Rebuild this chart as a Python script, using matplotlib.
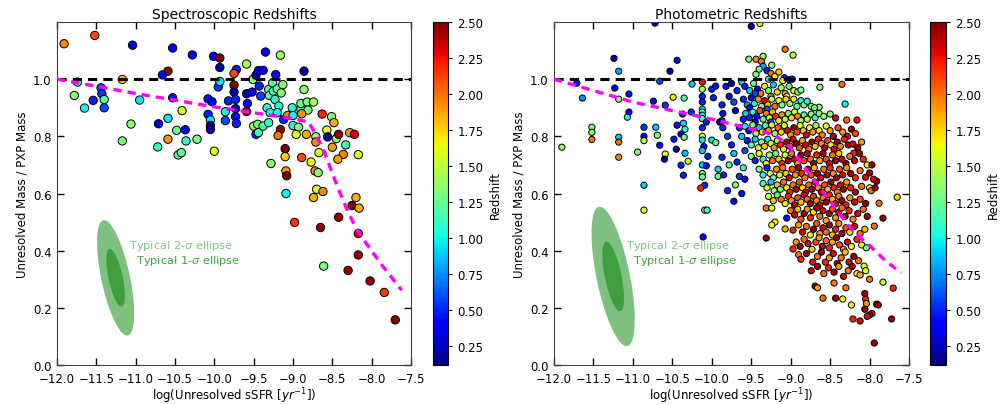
import numpy as np
import matplotlib
matplotlib.use('Agg')
import matplotlib.pyplot as plt

# ---- spectroscopic sample: log sSFR, mass ratio, redshift
spec_x = [-11.91, -11.52, -11.04, -10.53, -10.28, -10.01, -9.93, -9.93, -9.35, -9.16,
          -9.59, -10.59, -10.66, -9.72, -8.86, -11.17, -11.74, -11.78, -11.65, -11.54,
          -11.44, -11.43, -11.40, -11.40, -10.95, -11.06, -11.17, -10.53, -10.59, -10.71,
          -10.41, -10.48, -10.37, -10.59, -10.72, -10.36, -10.22, -10.46, -10.42, -10.00,
          -10.08, -10.03, -10.08, -10.05, -10.05, -10.05, -9.95, -9.93, -9.86, -9.86,
          -9.82, -9.75, -9.75, -9.75, -9.73, -9.73, -9.73, -9.72, -9.59, -9.58,
          -9.59, -9.52, -9.51, -9.47, -9.44, -9.38, -9.43, -9.41, -9.50, -9.45,
          -9.47, -9.44, -9.38, -9.33, -9.31, -9.30, -9.31, -9.29, -9.26, -9.22,
          -9.25, -9.23, -9.20, -9.18, -9.20, -9.15, -9.13, -9.12, -9.07, -9.01,
          -9.00, -8.86, -8.90, -8.90, -8.82, -8.74, -8.81, -8.89, -9.00, -8.93,
          -8.96, -8.83, -9.16, -9.19, -9.28, -8.71, -8.71, -8.63, -8.51, -8.57,
          -8.48, -8.56, -8.45, -8.42, -8.28, -8.22, -8.33, -8.50, -8.67, -8.36,
          -8.43, -8.17, -9.10, -9.10, -8.89, -8.77, -9.09, -9.08, -8.72, -8.68,
          -9.09, -8.70, -8.62, -8.74, -8.20, -8.25, -8.16, -8.42, -8.98, -8.65,
          -8.17, -8.17, -8.61, -8.30, -8.02, -7.84, -7.70]
spec_y = [1.124, 1.153, 1.119, 1.109, 1.085, 1.080, 1.074, 1.041, 1.095, 1.084,
          1.053, 1.028, 1.015, 1.034, 1.028, 0.999, 0.990, 0.943, 0.899, 0.926,
          0.970, 0.949, 0.929, 0.900, 0.927, 0.843, 0.784, 0.935, 0.863, 0.844,
          0.890, 0.821, 0.823, 0.790, 0.763, 0.784, 0.790, 0.735, 0.743, 0.748,
          0.931, 0.921, 0.877, 0.857, 0.838, 0.824, 0.973, 0.992, 0.886, 0.855,
          0.924, 0.979, 1.020, 0.955, 0.929, 0.897, 0.869, 0.845, 0.949, 0.915,
          0.887, 0.955, 0.999, 1.014, 1.030, 1.031, 0.976, 0.941, 0.836, 0.842,
          0.807, 0.813, 0.836, 0.900, 0.964, 0.943, 0.848, 0.883, 0.987, 1.016,
          0.958, 0.929, 0.966, 0.906, 0.883, 0.952, 0.981, 0.859, 0.873, 0.900,
          0.873, 0.964, 0.894, 0.915, 0.920, 0.920, 0.892, 0.879, 0.838, 0.832,
          0.807, 0.807, 0.824, 0.803, 0.705, 0.799, 0.780, 0.878, 0.869, 0.822,
          0.848, 0.798, 0.792, 0.807, 0.813, 0.807, 0.770, 0.762, 0.743, 0.737,
          0.720, 0.736, 0.757, 0.729, 0.726, 0.710, 0.679, 0.662, 0.679, 0.673,
          0.600, 0.615, 0.607, 0.586, 0.586, 0.558, 0.549, 0.517, 0.499, 0.481,
          0.460, 0.385, 0.346, 0.331, 0.294, 0.254, 0.158]
spec_z = [1.95, 2.1, 0.4, 0.4, 0.35, 0.35, 2.5, 0.2, 0.4, 1.4,
          1.45, 2.45, 0.4, 0.5, 0.2, 1.8, 1.1, 1.35, 1.0, 0.5,
          0.6, 0.55, 1.2, 0.6, 0.95, 1.35, 1.3, 0.45, 0.95, 0.35,
          1.55, 1.2, 0.4, 1.9, 1.1, 1.1, 1.3, 1.15, 1.25, 1.6,
          0.45, 0.4, 0.5, 0.95, 0.2, 0.2, 0.55, 0.95, 1.0, 0.6,
          0.5, 2.5, 2.1, 0.2, 0.5, 0.2, 0.45, 0.5, 0.25, 0.4,
          2.4, 0.4, 1.35, 0.25, 0.4, 0.4, 0.5, 0.55, 1.4, 1.3,
          0.55, 1.15, 1.15, 1.05, 1.15, 1.2, 1.15, 1.0, 1.2, 0.45,
          1.1, 1.1, 1.3, 1.05, 1.0, 1.35, 1.35, 0.5, 1.95, 1.05,
          1.0, 1.35, 1.15, 1.25, 1.3, 1.4, 1.3, 1.9, 1.05, 1.3,
          1.6, 1.85, 2.45, 2.0, 1.35, 1.4, 1.95, 2.2, 1.35, 1.6,
          1.85, 0.2, 1.35, 2.45, 1.9, 2.3, 1.15, 1.9, 1.6, 1.95,
          1.9, 1.6, 2.5, 1.75, 2.1, 1.65, 1.9, 2.5, 1.95, 1.35,
          1.0, 1.6, 1.95, 1.85, 1.85, 2.5, 1.85, 2.45, 2.15, 2.45,
          2.3, 2.45, 1.3, 2.45, 2.45, 2.15, 2.5]

# ---- photometric sample (one line per region / band of the cloud)
phot_x = [
    -11.90, -11.71, -11.64, -11.52, -11.52, -11.52, -11.24, -11.23, -11.18, -11.18,
    -11.18, -11.18, -11.18, -11.05, -11.05, -11.07, -10.94, -10.86, -10.86, -10.86,
    -10.86, -10.86, -10.72, -10.74, -10.71, -10.69, -10.66, -10.66, -10.59, -10.59,
    -10.60, -10.53, -10.49, -10.44, -10.44, -10.45, -10.39, -10.39, -10.37, -10.36,
    -10.36, -10.35, -10.35, -10.34, -10.34, -10.30, -10.48, -10.26, -10.25, -10.12,
    -10.12, -10.12, -10.12, -10.12, -10.12, -10.12, -10.12, -10.07, -10.12, -10.12,
    -10.12, -10.10, -10.12, -10.12, -10.07, -10.12, -10.12, -10.09, -10.14, -10.09,
    -10.06, -10.11, -10.00, -9.95, -9.98, -10.00, -9.95, -10.05, -9.87, -9.92,
    -9.92, -9.87, -9.86, -9.87, -9.86, -9.90, -9.72, -9.85, -9.80, -9.82,
    -9.78, -9.75, -9.72, -9.70, -9.68, -9.80, -9.75, -9.72, -9.68, -9.78,
    -9.65, -9.70, -9.62, -9.65, -9.60, -9.62, -9.58, -9.60, -9.58,
    -9.50, -9.39, -9.07, -8.97, -9.53, -9.44, -9.35, -9.37, -9.24, -9.35,
    -9.44, -9.30, -9.25, -9.20, -9.15, -9.08, -9.40, -9.28, -9.10, -9.02,
    -8.98, -8.35, -8.63, -9.62,
    -9.58, -9.52, -9.47, -9.42, -9.38, -9.33, -9.28, -9.22, -9.17, -9.12, -9.07, -9.02, -8.96, -8.91, -8.87, -9.45, -9.25, -9.05,
    -9.60, -9.55, -9.50, -9.46, -9.41, -9.37, -9.33, -9.29, -9.24, -9.20, -9.15, -9.11, -9.06, -9.01, -8.96, -8.92, -8.87, -8.83, -8.79, -8.74, -8.64, -8.70, -8.31, -9.52, -9.30,
    -9.57, -9.52, -9.48, -9.43, -9.39, -9.35, -9.31, -9.27, -9.23, -9.19, -9.15, -9.11, -9.07, -9.03, -8.99, -8.95, -8.91, -8.87, -8.83, -8.79, -8.74, -8.69, -8.64, -8.58, -8.50, -8.43, -8.29, -8.16, -9.45, -9.25,
    -9.58, -9.53, -9.48, -9.44, -9.40, -9.36, -9.32, -9.28, -9.24, -9.20, -9.16, -9.12, -9.08, -9.04, -9.00, -8.96, -8.92, -8.88, -8.84, -8.80, -8.76, -8.72, -8.68, -8.64, -8.60, -8.55, -8.50, -8.46, -8.40, -8.34, -8.28, -8.23, -8.18,
    -9.55, -9.50, -9.45, -9.41, -9.37, -9.33, -9.29, -9.25, -9.21, -9.17, -9.13, -9.09, -9.05, -9.01, -8.97, -8.93, -8.89, -8.85, -8.81, -8.77, -8.73, -8.69, -8.65, -8.61, -8.57, -8.53, -8.49, -8.45, -8.41, -8.37, -8.32, -8.27, -8.21, -8.15, -8.10, -8.20,
    -9.50, -9.45, -9.40, -9.35, -9.31, -9.27, -9.23, -9.19, -9.15, -9.11, -9.07, -9.03, -8.99, -8.95, -8.91, -8.87, -8.83, -8.79, -8.75, -8.71, -8.67, -8.63, -8.59, -8.55, -8.51, -8.47, -8.43, -8.39, -8.35, -8.30, -8.25, -8.19, -8.13, -8.08, -8.03,
    -9.40, -9.35, -9.30, -9.26, -9.22, -9.18, -9.14, -9.10, -9.06, -9.02, -8.98, -8.94, -8.90, -8.86, -8.82, -8.78, -8.74, -8.70, -8.66, -8.62, -8.58, -8.54, -8.50, -8.46, -8.42, -8.38, -8.34, -8.29, -8.24, -8.18, -8.12, -8.05, -8.00, -7.91,
    -9.35, -9.30, -9.25, -9.21, -9.17, -9.13, -9.09, -9.05, -9.01, -8.97, -8.93, -8.89, -8.85, -8.81, -8.77, -8.73, -8.69, -8.65, -8.61, -8.57, -8.53, -8.49, -8.45, -8.41, -8.37, -8.33, -8.29, -8.24, -8.18, -8.10, -8.00, -7.98,
    -9.28, -9.22, -9.17, -9.12, -9.07, -9.03, -8.99, -8.95, -8.91, -8.87, -8.83, -8.79, -8.75, -8.71, -8.67, -8.63, -8.59, -8.55, -8.51, -8.47, -8.43, -8.39, -8.35, -8.30, -8.25, -8.19, -8.12, -8.05, -7.88, -7.65, -9.31, -9.24,
    -9.20, -9.05, -9.00, -8.95, -8.91, -8.87, -8.83, -8.79, -8.75, -8.71, -8.67, -8.63, -8.59, -8.55, -8.51, -8.47, -8.43, -8.39, -8.35, -8.31, -8.26, -8.21, -8.15, -8.08, -8.03, -7.83,
    -9.07, -8.97, -8.90, -8.85, -8.80, -8.75, -8.71, -8.67, -8.63, -8.59, -8.55, -8.51, -8.47, -8.43, -8.39, -8.35, -8.30, -8.25, -8.19, -8.12, -8.06, -7.94, -9.31, -9.24,
    -8.97, -8.93, -8.88, -8.83, -8.78, -8.73, -8.68, -8.64, -8.60, -8.55, -8.51, -8.47, -8.42, -8.38, -8.33, -8.28, -8.23, -8.16, -8.10, -8.04,
    -8.90, -8.87, -8.80, -8.72, -8.66, -8.61, -8.56, -8.51, -8.46, -8.41, -8.36, -8.31, -8.26, -8.20, -8.14, -8.07,
    -8.74, -8.66, -8.58, -8.52, -8.45, -8.39, -8.33, -8.27, -8.22, -8.16, -8.12, -8.05, -8.00,
    -8.69, -8.66, -8.59, -8.45, -8.43, -8.34, -8.23, -8.30, -8.06, -8.05, -8.04, -8.06, -7.91, -7.97, -7.89, -7.83, -7.70,
    -8.21, -8.12, -8.00, -8.03, -7.72, -7.94, -7.97, -7.95, -7.93]
phot_y = [
    0.762, 0.986, 0.934, 0.832, 0.814, 0.789, 1.073, 0.969, 1.028, 0.930,
    0.797, 0.780, 0.727, 0.948, 0.885, 0.867, 0.745, 0.832, 0.800, 0.785,
    0.629, 0.542, 1.196, 0.923, 0.832, 0.804, 0.993, 0.769, 0.909, 0.738,
    0.720, 1.028, 0.937, 1.066, 0.839, 0.755, 0.808, 0.699, 0.878, 0.846,
    0.664, 0.934, 0.797, 0.825, 0.741, 0.713, 0.790, 0.885, 0.983, 0.990,
    0.965, 0.940, 0.920, 0.895, 0.885, 0.874, 0.862, 0.850, 0.830, 0.800,
    0.787, 0.764, 0.750, 0.700, 0.697, 0.670, 0.658, 0.629, 0.619, 0.542,
    0.542, 0.448, 0.965, 0.976, 0.935, 0.787, 0.778, 0.730, 0.727, 0.685,
    0.660, 0.910, 0.880, 0.855, 0.830, 0.850, 0.573, 0.665, 0.610, 0.975,
    0.940, 0.985, 0.920, 0.890, 0.960, 0.800, 0.770, 0.740, 0.710, 0.700,
    0.660, 0.630, 0.600, 0.830, 0.860, 0.800, 0.750, 0.690, 0.650,
    1.185, 1.195, 1.105, 1.084, 1.070, 1.070, 1.080, 1.062, 1.049, 1.045,
    1.017, 1.030, 1.020, 1.010, 1.025, 1.005, 1.035, 1.000, 0.995, 0.998,
    1.000, 0.982, 0.972, 0.990,
    0.975, 0.96, 0.985, 0.965, 0.95, 0.975, 0.96, 0.98, 0.955, 0.97, 0.95, 0.975, 0.96, 0.955, 0.962, 0.95, 0.94, 0.94,
    0.93, 0.91, 0.935, 0.915, 0.93, 0.905, 0.925, 0.91, 0.93, 0.905, 0.925, 0.91, 0.93, 0.915, 0.93, 0.905, 0.925, 0.91, 0.923, 0.905, 0.902, 0.90, 0.913, 0.90, 0.895,
    0.88, 0.865, 0.885, 0.87, 0.89, 0.86, 0.88, 0.865, 0.885, 0.87, 0.855, 0.875, 0.86, 0.88, 0.865, 0.885, 0.87, 0.855, 0.875, 0.86, 0.878, 0.865, 0.88, 0.87, 0.878, 0.864, 0.857, 0.857, 0.85, 0.85,
    0.835, 0.82, 0.84, 0.81, 0.83, 0.815, 0.838, 0.82, 0.84, 0.81, 0.83, 0.815, 0.838, 0.82, 0.805, 0.83, 0.815, 0.838, 0.82, 0.805, 0.83, 0.815, 0.838, 0.82, 0.805, 0.836, 0.82, 0.80, 0.83, 0.815, 0.80, 0.825, 0.81,
    0.785, 0.77, 0.79, 0.76, 0.78, 0.765, 0.79, 0.775, 0.76, 0.785, 0.77, 0.755, 0.78, 0.765, 0.79, 0.775, 0.76, 0.785, 0.77, 0.755, 0.78, 0.765, 0.79, 0.775, 0.76, 0.785, 0.77, 0.755, 0.78, 0.765, 0.79, 0.77, 0.773, 0.76, 0.78, 0.741,
    0.73, 0.715, 0.74, 0.72, 0.705, 0.735, 0.715, 0.74, 0.72, 0.705, 0.735, 0.715, 0.74, 0.72, 0.705, 0.735, 0.715, 0.74, 0.72, 0.705, 0.735, 0.715, 0.74, 0.72, 0.705, 0.735, 0.715, 0.74, 0.72, 0.705, 0.73, 0.715, 0.74, 0.72, 0.70,
    0.685, 0.665, 0.69, 0.67, 0.655, 0.685, 0.665, 0.69, 0.67, 0.655, 0.685, 0.665, 0.69, 0.67, 0.655, 0.685, 0.665, 0.69, 0.67, 0.655, 0.685, 0.665, 0.69, 0.67, 0.655, 0.685, 0.665, 0.69, 0.67, 0.655, 0.68, 0.657, 0.672, 0.643,
    0.635, 0.62, 0.64, 0.61, 0.63, 0.615, 0.64, 0.62, 0.605, 0.63, 0.615, 0.64, 0.62, 0.605, 0.63, 0.615, 0.64, 0.62, 0.605, 0.63, 0.615, 0.64, 0.62, 0.605, 0.63, 0.615, 0.64, 0.62, 0.605, 0.625, 0.62, 0.61,
    0.59, 0.575, 0.595, 0.58, 0.565, 0.59, 0.575, 0.56, 0.585, 0.57, 0.595, 0.58, 0.565, 0.59, 0.575, 0.56, 0.585, 0.57, 0.595, 0.58, 0.565, 0.59, 0.575, 0.56, 0.585, 0.57, 0.58, 0.565, 0.566, 0.587, 0.549, 0.549,
    0.50, 0.514, 0.54, 0.525, 0.545, 0.51, 0.53, 0.545, 0.515, 0.535, 0.55, 0.52, 0.54, 0.505, 0.53, 0.545, 0.515, 0.535, 0.55, 0.52, 0.54, 0.51, 0.53, 0.545, 0.52, 0.514,
    0.476, 0.472, 0.49, 0.465, 0.485, 0.455, 0.475, 0.495, 0.46, 0.48, 0.465, 0.49, 0.455, 0.475, 0.495, 0.46, 0.48, 0.465, 0.485, 0.46, 0.475, 0.486, 0.444, 0.49,
    0.406, 0.43, 0.415, 0.44, 0.425, 0.405, 0.43, 0.445, 0.415, 0.435, 0.41, 0.43, 0.445, 0.42, 0.405, 0.43, 0.415, 0.44, 0.42, 0.41,
    0.386, 0.37, 0.39, 0.36, 0.38, 0.395, 0.36, 0.375, 0.39, 0.355, 0.375, 0.395, 0.36, 0.38, 0.365, 0.346,
    0.33, 0.345, 0.32, 0.34, 0.325, 0.345, 0.31, 0.33, 0.345, 0.32, 0.315, 0.33, 0.30,
    0.276, 0.27, 0.234, 0.287, 0.234, 0.231, 0.21, 0.27, 0.25, 0.23, 0.215, 0.195, 0.213, 0.18, 0.21, 0.29, 0.269,
    0.161, 0.154, 0.175, 0.17, 0.161, 0.077, 0.70, 0.65, 0.62]
phot_z = [
    1.35, 0.45, 0.75, 1.35, 1.3, 2.0, 0.2, 0.4, 0.8, 1.35,
    0.9, 2.0, 1.95, 0.45, 0.4, 1.0, 1.35, 0.55, 0.45, 1.45,
    0.9, 1.6, 0.2, 0.45, 0.9, 1.3, 0.6, 0.45, 0.55, 1.65,
    0.2, 0.2, 1.6, 0.3, 0.45, 0.2, 0.4, 0.5, 0.5, 0.9,
    0.5, 1.2, 1.3, 1.1, 0.9, 1.5, 0.45, 0.5, 0.9, 2.25,
    1.4, 0.5, 0.5, 1.0, 1.1, 1.0, 1.15, 0.5, 0.5, 1.6,
    0.95, 0.4, 0.9, 0.9, 0.45, 1.3, 1.25, 0.5, 2.2, 1.25,
    1.2, 0.4, 0.5, 0.45, 0.5, 0.95, 1.25, 0.5, 0.5, 0.9,
    1.25, 0.5, 0.45, 0.55, 0.5, 0.2, 0.45, 0.5, 0.5, 0.45,
    0.4, 0.2, 0.6, 0.3, 0.5, 0.55, 0.5, 0.9, 0.5, 1.2,
    0.55, 1.3, 0.45, 0.45, 0.5, 0.9, 0.6, 1.1, 0.4,
    0.2, 1.65, 2.0, 1.45, 1.3, 1.95, 1.4, 2.0, 1.35, 0.8,
    1.35, 0.5, 2.0, 1.7, 1.8, 0.5, 1.2, 1.0, 1.6, 0.3,
    0.2, 2.0, 1.3, 0.9,
    0.5, 0.9, 1.2, 0.4, 2.0, 1.6, 1.3, 0.9, 1.75, 1.4, 1.9, 1.2, 1.6, 1.35, 1.3, 0.6, 2.0, 1.6,
    0.5, 0.8, 0.45, 1.0, 1.9, 1.3, 2.3, 1.8, 1.5, 2.0, 1.65, 1.25, 1.75, 1.4, 1.6, 1.2, 1.0, 1.3, 1.0, 1.35, 1.35, 1.3, 1.0, 0.3, 0.6,
    0.9, 0.5, 1.1, 0.4, 2.1, 1.2, 1.95, 1.6, 1.8, 2.2, 1.7, 1.9, 1.5, 1.3, 1.75, 1.6, 1.95, 1.4, 1.2, 1.5, 1.3, 1.1, 1.3, 1.4, 1.35, 2.3, 2.0, 2.25, 0.3, 0.6,
    1.0, 0.45, 1.3, 1.5, 0.9, 1.7, 1.2, 1.9, 1.6, 1.4, 2.0, 1.75, 1.5, 2.3, 1.9, 2.45, 2.1, 1.6, 1.8, 2.3, 1.65, 1.9, 1.4, 1.7, 2.0, 1.55, 1.9, 2.4, 2.1, 1.9, 2.3, 2.45, 2.1,
    0.5, 1.2, 0.9, 1.6, 1.3, 1.8, 1.0, 1.55, 1.9, 1.4, 2.2, 1.7, 2.4, 2.0, 2.3, 2.45, 2.1, 1.9, 2.3, 2.0, 2.45, 1.8, 2.2, 1.95, 2.4, 2.1, 1.7, 2.3, 2.45, 1.95, 2.2, 2.4, 2.3, 2.45, 1.9, 2.2,
    1.3, 0.5, 1.6, 1.1, 1.7, 1.4, 2.0, 1.25, 1.8, 2.2, 1.6, 2.45, 2.0, 2.3, 1.9, 2.45, 2.1, 2.35, 2.0, 2.45, 2.2, 1.85, 2.4, 2.1, 2.3, 2.0, 2.45, 1.8, 2.3, 2.45, 2.0, 2.35, 2.45, 2.2, 1.7,
    1.3, 1.0, 0.5, 1.6, 1.2, 1.9, 1.5, 2.0, 1.75, 2.3, 2.1, 1.9, 2.45, 2.2, 2.0, 2.4, 2.1, 1.8, 2.45, 2.3, 2.0, 2.4, 2.2, 1.95, 2.45, 2.1, 2.3, 1.9, 2.45, 2.2, 2.0, 2.3, 2.45, 2.45,
    1.2, 1.6, 0.9, 1.4, 1.8, 1.3, 2.0, 1.7, 2.2, 1.95, 2.4, 2.1, 1.75, 2.3, 2.0, 2.45, 2.2, 1.9, 2.35, 2.1, 1.8, 2.45, 2.2, 2.0, 2.3, 2.45, 1.9, 2.2, 2.4, 2.0, 1.7, 2.0,
    1.5, 1.8, 1.2, 2.0, 1.7, 2.2, 1.9, 2.4, 2.1, 1.8, 2.3, 2.0, 2.45, 2.15, 1.9, 2.35, 2.0, 2.45, 2.2, 1.85, 2.3, 2.0, 2.45, 2.2, 1.9, 2.3, 2.1, 2.45, 2.0, 1.75, 2.0, 1.65,
    1.65, 0.45, 2.0, 2.3, 1.8, 2.1, 2.45, 1.9, 2.2, 1.7, 2.4, 2.0, 2.3, 1.85, 2.45, 2.1, 1.9, 2.35, 2.0, 2.45, 2.2, 1.95, 2.3, 2.0, 2.45, 2.45,
    1.85, 2.2, 1.9, 2.3, 2.0, 1.7, 2.45, 2.1, 1.9, 2.3, 2.0, 2.45, 1.8, 2.2, 1.95, 2.4, 2.1, 1.7, 2.3, 2.0, 1.8, 2.0, 2.45, 1.6,
    2.2, 1.9, 2.45, 2.0, 2.3, 1.75, 2.1, 1.9, 2.4, 2.0, 2.2, 1.85, 2.45, 2.1, 1.9, 2.3, 1.7, 2.2, 1.6, 1.3,
    2.0, 2.2, 2.45, 2.25, 2.0, 2.45, 2.2, 1.9, 2.3, 2.45, 2.0, 1.8, 2.3, 2.45, 2.0, 1.5,
    2.3, 2.45, 2.0, 2.2, 2.45, 1.9, 2.3, 2.0, 2.45, 1.7, 1.85, 1.6, 2.0,
    2.45, 1.9, 2.0, 2.0, 2.45, 1.7, 1.7, 2.0, 2.45, 2.2, 1.9, 2.45, 2.45, 2.3, 2.45, 1.5, 2.2,
    2.2, 2.3, 2.45, 2.3, 2.45, 2.45, 2.45, 2.3, 2.45]

# ---- magenta dashed trend curves
spec_curve_x = [-12.0, -11.0, -10.0, -9.0, -8.8, -8.7, -8.6, -8.5, -8.4, -8.3,
                -8.2, -8.1, -8.0, -7.9, -7.8, -7.7, -7.62]
spec_curve_y = [1.0, 0.95, 0.903, 0.862, 0.85, 0.80, 0.745, 0.67, 0.60, 0.535,
                0.48, 0.437, 0.40, 0.36, 0.325, 0.29, 0.262]
phot_curve_x = [-12.0, -11.0, -10.0, -9.5, -9.2, -9.0, -8.8, -8.6, -8.4, -8.2,
                -8.0, -7.8, -7.6]
phot_curve_y = [1.0, 0.92, 0.86, 0.826, 0.805, 0.76, 0.682, 0.61, 0.535, 0.465,
                0.418, 0.365, 0.322]

# ---- typical error ellipses: centre x, centre y, sigma x, sigma y, correlation
spec_ellipse = (-11.255, 0.305, 0.118, 0.101, -0.62)
phot_ellipse = (-11.25, 0.31, 0.137, 0.122, -0.62)

cbar_ticks = [0.25, 0.50, 0.75, 1.00, 1.25, 1.50, 1.75, 2.00, 2.25, 2.50]
x_ticks = [-12.0, -11.5, -11.0, -10.5, -10.0, -9.5, -9.0, -8.5, -8.0, -7.5]
y_ticks = [0.0, 0.2, 0.4, 0.6, 0.8, 1.0]

fig = plt.figure(figsize=(10.02, 4.06), dpi=100)
fig.patch.set_facecolor('white')

panels = [
    ('Spectroscopic Redshifts', spec_x, spec_y, spec_z, spec_curve_x, spec_curve_y,
     spec_ellipse, 36, [0.0569, 0.0985, 0.3533, 0.8448], [0.4321, 0.0985, 0.0152, 0.8448]),
    ('Photometric Redshifts', phot_x, phot_y, phot_z, phot_curve_x, phot_curve_y,
     phot_ellipse, 20, [0.5529, 0.0985, 0.3543, 0.8448], [0.9281, 0.0985, 0.0165, 0.8448]),
]

t = np.linspace(0, 2 * np.pi, 300)
for title, xs, ys, zs, cx, cy, ell, size, apos, cpos in panels:
    ax = fig.add_axes(apos)
    sc = ax.scatter(xs, ys, c=zs, cmap='jet', vmin=0.12, vmax=2.5, s=size,
                    edgecolors='k', linewidths=0.7, zorder=2)
    ax.axhline(1.0, color='k', lw=2.2, dashes=(3, 2), zorder=3)
    ax.plot(cx, cy, color='magenta', lw=2.4, dashes=(2.5, 1.8), zorder=3)

    ex0, ey0, sx, sy, rho = ell
    for k in (2, 1):
        ex = ex0 + k * sx * np.cos(t)
        ey = ey0 + k * sy * (rho * np.cos(t) + np.sqrt(1 - rho ** 2) * np.sin(t))
        ax.fill(ex, ey, color='g', alpha=0.5, lw=0, zorder=1)
    ax.text(-11.085, 0.419, r'Typical 2-$\sigma$ ellipse', color=(0.5, 0.76, 0.5),
            fontsize=8.2, va='center')
    ax.text(-11.0, 0.367, r'Typical 1-$\sigma$ ellipse', color=(0.25, 0.64, 0.25),
            fontsize=8.2, va='center')

    ax.set_xlim(-12.0, -7.5)
    ax.set_ylim(0.0, 1.2)
    ax.set_xticks(x_ticks)
    ax.set_yticks(y_ticks)
    ax.tick_params(direction='in', top=True, right=True, length=5, width=1,
                   labelsize=8.5)
    ax.tick_params(axis='x', pad=5)
    ax.tick_params(axis='y', pad=4)
    for sp in ax.spines.values():
        sp.set_color('0.25')
    ax.set_title(title, fontsize=10, pad=3)
    ax.set_xlabel(r'log(Unresolved sSFR [$yr^{-1}$])', fontsize=8.5, labelpad=0)
    ax.set_ylabel('Unresolved Mass / PXP Mass', fontsize=8.5, labelpad=3)

    cax = fig.add_axes(cpos)
    cb = fig.colorbar(sc, cax=cax, ticks=cbar_ticks)
    cb.ax.tick_params(labelsize=8.5, length=3)
    cb.set_label('Redshift', fontsize=8.5)

fig.savefig('out.png', dpi=100, facecolor='white')
